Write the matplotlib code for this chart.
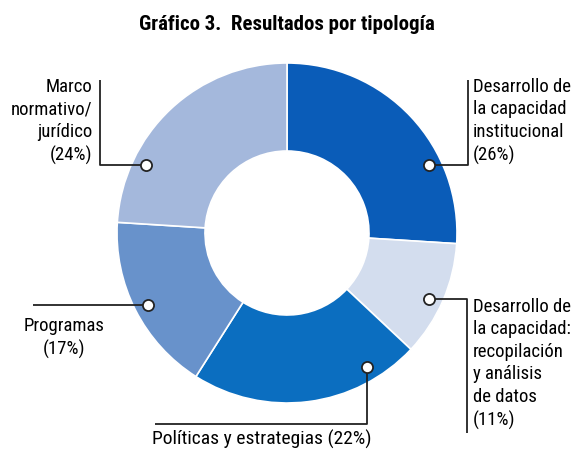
import matplotlib
matplotlib.use("Agg")
import matplotlib.pyplot as plt
from matplotlib import font_manager

names = {f.name for f in font_manager.fontManager.ttflist}
cands = ["Roboto Condensed", "Archivo Narrow", "PT Sans Narrow", "Fira Sans Condensed",
         "IBM Plex Sans Condensed", "Barlow Semi Condensed", "Liberation Sans Narrow",
         "Open Sans Condensed", "DejaVu Sans"]
main = next(c for c in cands if c in names)
plt.rcParams['font.family'] = [main, "DejaVu Sans"]

categories = ["Desarrollo de la capacidad institucional",
              "Desarrollo de la capacidad: recopilación y análisis de datos",
              "Políticas y estrategias",
              "Programas",
              "Marco normativo/jurídico"]
values = [26, 11, 22, 17, 24]
colors = ["#0a5cb8", "#d3ddee", "#0b6ec0", "#6892cb", "#a4b8dc"]
title = "Gráfico 3.  Resultados por tipología"

W, H = 574, 450
fig = plt.figure(figsize=(W/100, H/100), dpi=100)
ax = fig.add_axes([0, 0, 1, 1])
ax.axis('off')

cx, cy = 287, H - 233
R, r_in = 170, 82
ax.pie(values, colors=colors, startangle=90, counterclock=False,
       center=(cx, cy), radius=R,
       wedgeprops=dict(width=R - r_in, edgecolor='white', linewidth=1.2))
ax.set_xlim(0, W)
ax.set_ylim(0, H)
ax.set_aspect('equal')

fs = 13.5
lc = '#222222'
def Y(y): return H - y

def path(pts):
    xs = [p[0] for p in pts]; ys = [Y(p[1]) for p in pts]
    ax.plot(xs, ys, color=lc, lw=1.3, solid_capstyle='butt', zorder=3)
def dot(x, y):
    ax.plot([x], [Y(y)], marker='o', ms=8, mfc='white', mec=lc, mew=1.3, zorder=4)

ls = 1.32
# 26%
path([(429, 165), (468, 165), (468, 80)]); dot(429, 165)
ax.text(473, Y(78), "Desarrollo de\nla capacidad\ninstitucional\n(26%)", fontsize=fs,
        ha='left', va='top', linespacing=ls)
# 11%
path([(429, 299), (467, 299), (467, 433)]); dot(429, 299)
ax.text(473, Y(298), "Desarrollo de\nla capacidad:\nrecopilación\ny análisis\nde datos\n(11%)", fontsize=fs,
        ha='left', va='top', linespacing=ls)
# 22%
path([(367, 367), (367, 424), (155, 424)]); dot(367, 367)
ax.text(262, Y(430), "Políticas y estrategias (22%)", fontsize=14, ha='center', va='top')
# 17%
path([(33, 305), (148, 305)]); dot(148, 305)
ax.text(64, Y(317), "Programas\n(17%)", fontsize=fs, ha='center', va='top', linespacing=ls)
# 24%
path([(100, 80), (100, 165), (146, 165)]); dot(146, 165)
ax.text(92, Y(78), "Marco\nnormativo/\njurídico\n(24%)", fontsize=fs, ha='right', va='top', linespacing=ls)

ax.text(W/2, Y(15), title, fontsize=15, fontweight='bold', ha='center', va='top')

fig.savefig("out.png", dpi=100)
